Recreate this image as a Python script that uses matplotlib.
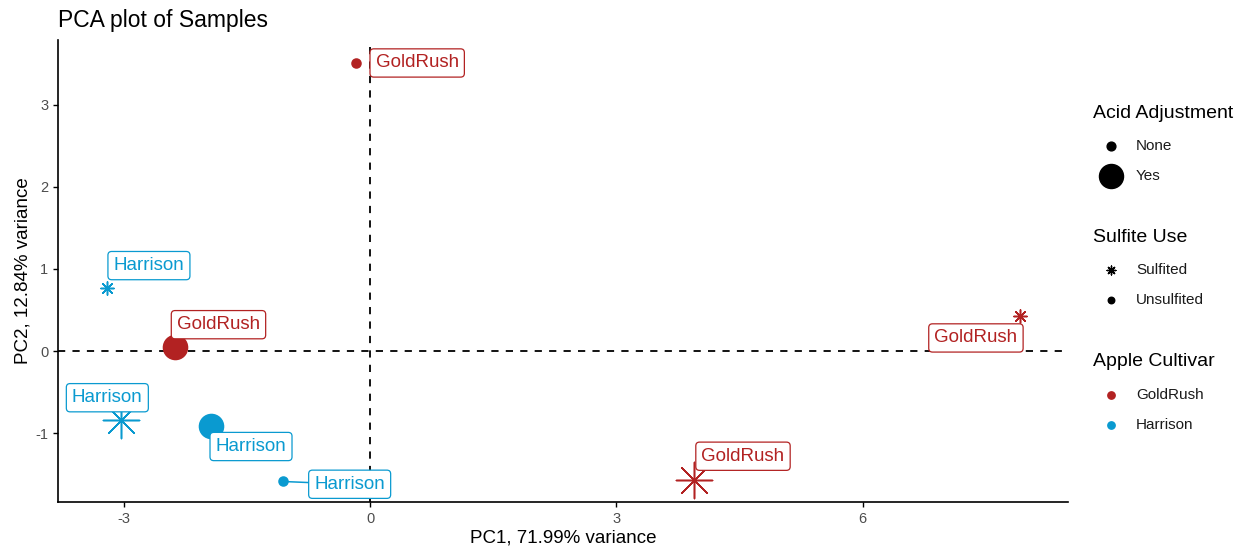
"""PCA plot of Samples — ggplot 风格重绘"""

import matplotlib
matplotlib.use("Agg")
import matplotlib.pyplot as plt

plt.rcParams["font.family"] = ["Liberation Sans", "DejaVu Sans"]
plt.rcParams["axes.unicode_minus"] = False

# ── 数据 ──
pc1 = [-0.17, -3.20, -2.37, -3.03, -1.94, -1.06, 3.95, 7.92]
pc2 = [3.51, 0.77, 0.05, -0.84, -0.91, -1.59, -1.57, 0.43]
cultivar = ["GoldRush", "Harrison", "GoldRush", "Harrison",
            "Harrison", "Harrison", "GoldRush", "GoldRush"]
sulfite = ["Unsulfited", "Sulfited", "Unsulfited", "Sulfited",
           "Unsulfited", "Unsulfited", "Sulfited", "Sulfited"]
acid = ["None", "None", "Yes", "Yes", "Yes", "None", "Yes", "None"]

# 标签偏移（points，模拟 ggrepel 排布）
label_dx = [44, 30, 31, -10, 29, 48, 35, -32]
label_dy = [0, 16, 16, 16, -15, -2, 17, -16]
label_segment = [False, False, False, False, False, True, False, False]

COLORS = {"GoldRush": "#B22222", "Harrison": "#0A9AD0"}
MARKERS = {"Sulfited": (8, 2, 0), "Unsulfited": "o"}
SIZES = {("Unsulfited", "None"): 42, ("Unsulfited", "Yes"): 300,
         ("Sulfited", "None"): 90, ("Sulfited", "Yes"): 680}

W, H = 1242, 548
fig = plt.figure(figsize=(W / 100, H / 100), dpi=100)
ax = fig.add_axes([58 / W, 1 - 502 / H, (1068 - 58) / W, (502 - 40) / H])

ax.set_xlim(-3.8, 8.5)
ax.set_ylim(-1.84, 3.79)
ax.axhline(0, color="black", linestyle=(0, (4, 4)), linewidth=1.3, zorder=1)
ax.axvline(0, color="black", linestyle=(0, (4, 4)), linewidth=1.3, zorder=1)

for i in range(len(pc1)):
    c = COLORS[cultivar[i]]
    ax.scatter(pc1[i], pc2[i], s=SIZES[(sulfite[i], acid[i])],
               marker=MARKERS[sulfite[i]], color=c,
               linewidths=1.1, zorder=3)
    ax.annotate(
        cultivar[i], (pc1[i], pc2[i]),
        xytext=(label_dx[i], label_dy[i]), textcoords="offset points",
        ha="center", va="center", fontsize=13.5, color=c, zorder=4,
        bbox=dict(boxstyle="round,pad=0.3,rounding_size=0.2",
                  fc="white", ec=c, lw=0.9),
        arrowprops=dict(arrowstyle="-", color=c, lw=1.1, shrinkA=0, shrinkB=0)
        if label_segment[i] else None,
    )

for s in ["top", "right"]:
    ax.spines[s].set_visible(False)
for s in ["left", "bottom"]:
    ax.spines[s].set_linewidth(1.2)
ax.set_xticks([-3, 0, 3, 6])
ax.set_yticks([-1, 0, 1, 2, 3])
ax.tick_params(labelsize=10.5, labelcolor="#4D4D4D", length=3.5, width=1)
ax.set_xlabel("PC1, 71.99% variance", fontsize=13.5, labelpad=3)
ax.set_ylabel("PC2, 12.84% variance", fontsize=13.5, labelpad=3)
fig.text(58 / W, 1 - 20 / H, "PCA plot of Samples", fontsize=16.5,
         ha="left", va="center")

# ── 图例面板（像素坐标） ──
lg = fig.add_axes([0, 0, 1, 1], facecolor="none")
lg.set_xlim(0, W)
lg.set_ylim(H, 0)
lg.axis("off")

mx, tx = 1111, 1136
legend_groups = [
    ("Acid Adjustment", 113,
     [("None", 146, "o", 40, "black"), ("Yes", 176, "o", 300, "black")]),
    ("Sulfite Use", 238,
     [("Sulfited", 270, (8, 2, 0), 40, "black"),
      ("Unsulfited", 300, "o", 22, "black")]),
    ("Apple Cultivar", 362,
     [("GoldRush", 395, "o", 28, COLORS["GoldRush"]),
      ("Harrison", 425, "o", 28, COLORS["Harrison"])]),
]
for title, ty, items in legend_groups:
    lg.text(1093, ty, title, fontsize=14, ha="left", va="center")
    for label, y, mk, sz, col in items:
        lg.scatter(mx, y, s=sz, marker=mk, color=col, linewidths=1.0)
        lg.text(tx, y, label, fontsize=11, ha="left", va="center",
                color="#1A1A1A")

fig.savefig("out.png", dpi=100, facecolor="white")
